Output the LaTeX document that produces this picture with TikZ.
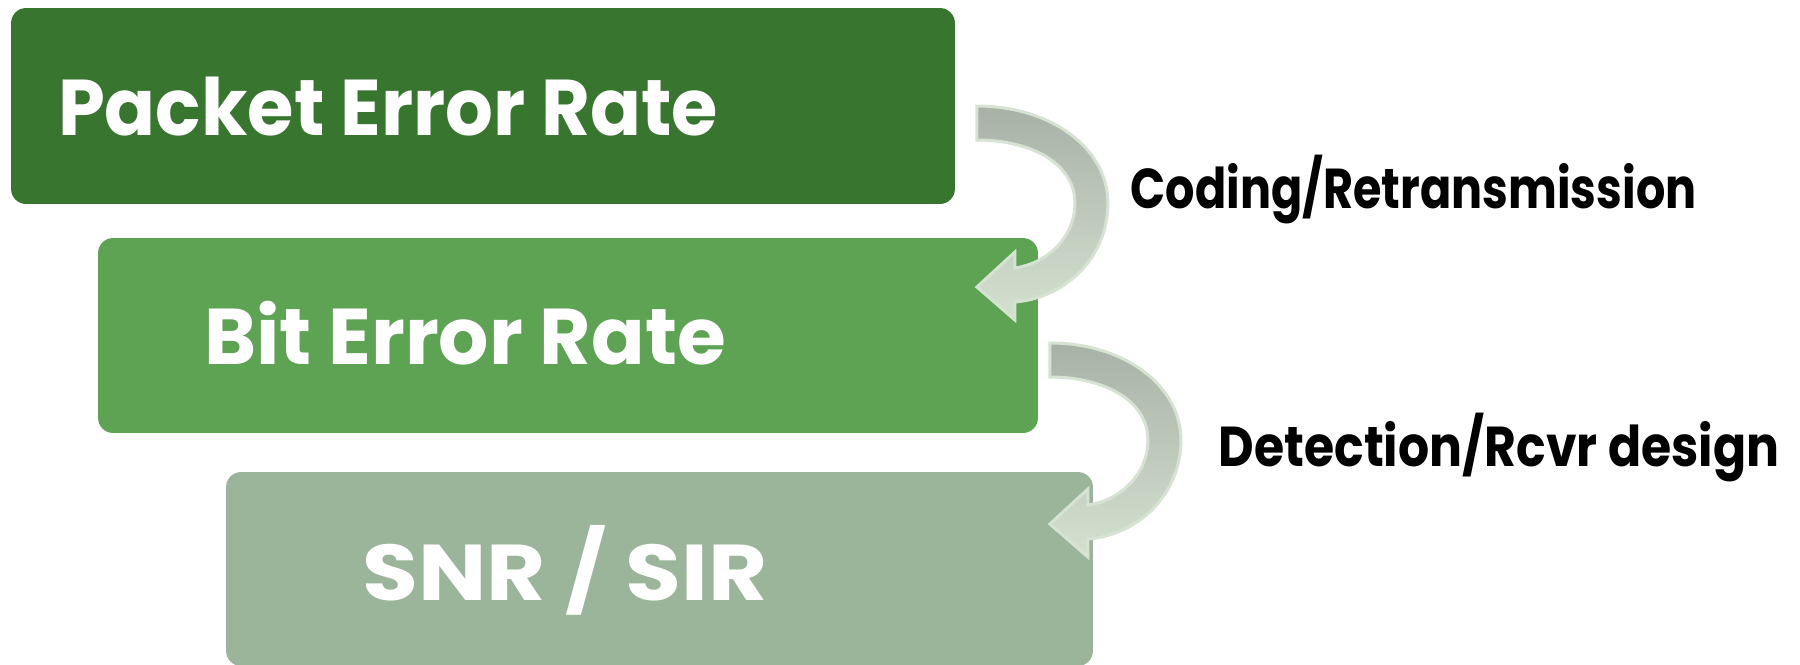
\documentclass[tikz,border=0pt]{standalone}
\usepackage{fontspec}
\setmainfont{Poppins}
\usepackage{xcolor}
\usepackage{graphicx}
\usetikzlibrary{positioning}

\definecolor{perGreen}{RGB}{56,117,47}
\definecolor{berGreen}{RGB}{94,163,84}
\definecolor{snrGreen}{RGB}{155,181,154}
\definecolor{arrTop}{RGB}{168,177,166}
\definecolor{arrBot}{RGB}{212,225,208}
\definecolor{arrEdge}{RGB}{214,226,210}

\newcommand{\boxlbl}[2][0.95]{\scalebox{#1}[1]{#2}}
\newcommand{\steplbl}[2][0.82]{\scalebox{#1}[1]{#2}}

\begin{document}
\begin{tikzpicture}[x=0.02cm,y=-0.02cm,every node/.style={outer sep=0pt},
    box/.style={rectangle,rounded corners=0.3cm,draw=none},
    boxtext/.style={text=white,font=\fontsize{45}{50}\selectfont\bfseries},
    steplabel/.style={anchor=west,font=\fontsize{32}{36}\selectfont\bfseries},
    bendarrow/.pic={\draw[arrEdge,line width=0.06cm,top color=arrTop,bottom color=arrBot]
     (0,0) .. controls (75,0) and (131,43) .. (131,97)
     .. controls (131,152) and (88,192) .. (38,196) -- (38,214) -- (0,181)
     -- (38,146) -- (38,162)
     .. controls (72,157) and (98,130) .. (98,97)
     .. controls (98,58) and (55,34) .. (0,34) -- cycle;}]
  \useasboundingbox (0,0) rectangle (1800,664);

  \node[box,fill=perGreen,minimum width=18.88cm,minimum height=3.92cm] (per) at (483,106) {};
  \node[box,fill=berGreen,minimum width=18.8cm,minimum height=3.9cm] (ber) at (568,335.5) {};
  \node[box,fill=snrGreen,minimum width=17.34cm,minimum height=3.88cm] (snr) at (659.5,569) {};

  \node[boxtext] (pertext) at (388,107) {\boxlbl{Packet Error Rate}};
  \node[boxtext] (bertext) at (465,333) {\boxlbl[1.0]{Bit Error Rate}};
  \node[boxtext] (snrtext) at (565,570) {\boxlbl[1.15]{SNR / SIR}};

  \pic at ([xshift=0.44cm]per.east) {bendarrow};
  \pic at ([xshift=0.24cm,yshift=-0.15cm]ber.east) {bendarrow};

  \node[steplabel] (coding) at (1125,190) {\steplbl{Coding/Retransmission}};
  \node[steplabel] (detect) at (1213,448) {\steplbl[0.87]{Detection/Rcvr design}};
\end{tikzpicture}
\end{document}
